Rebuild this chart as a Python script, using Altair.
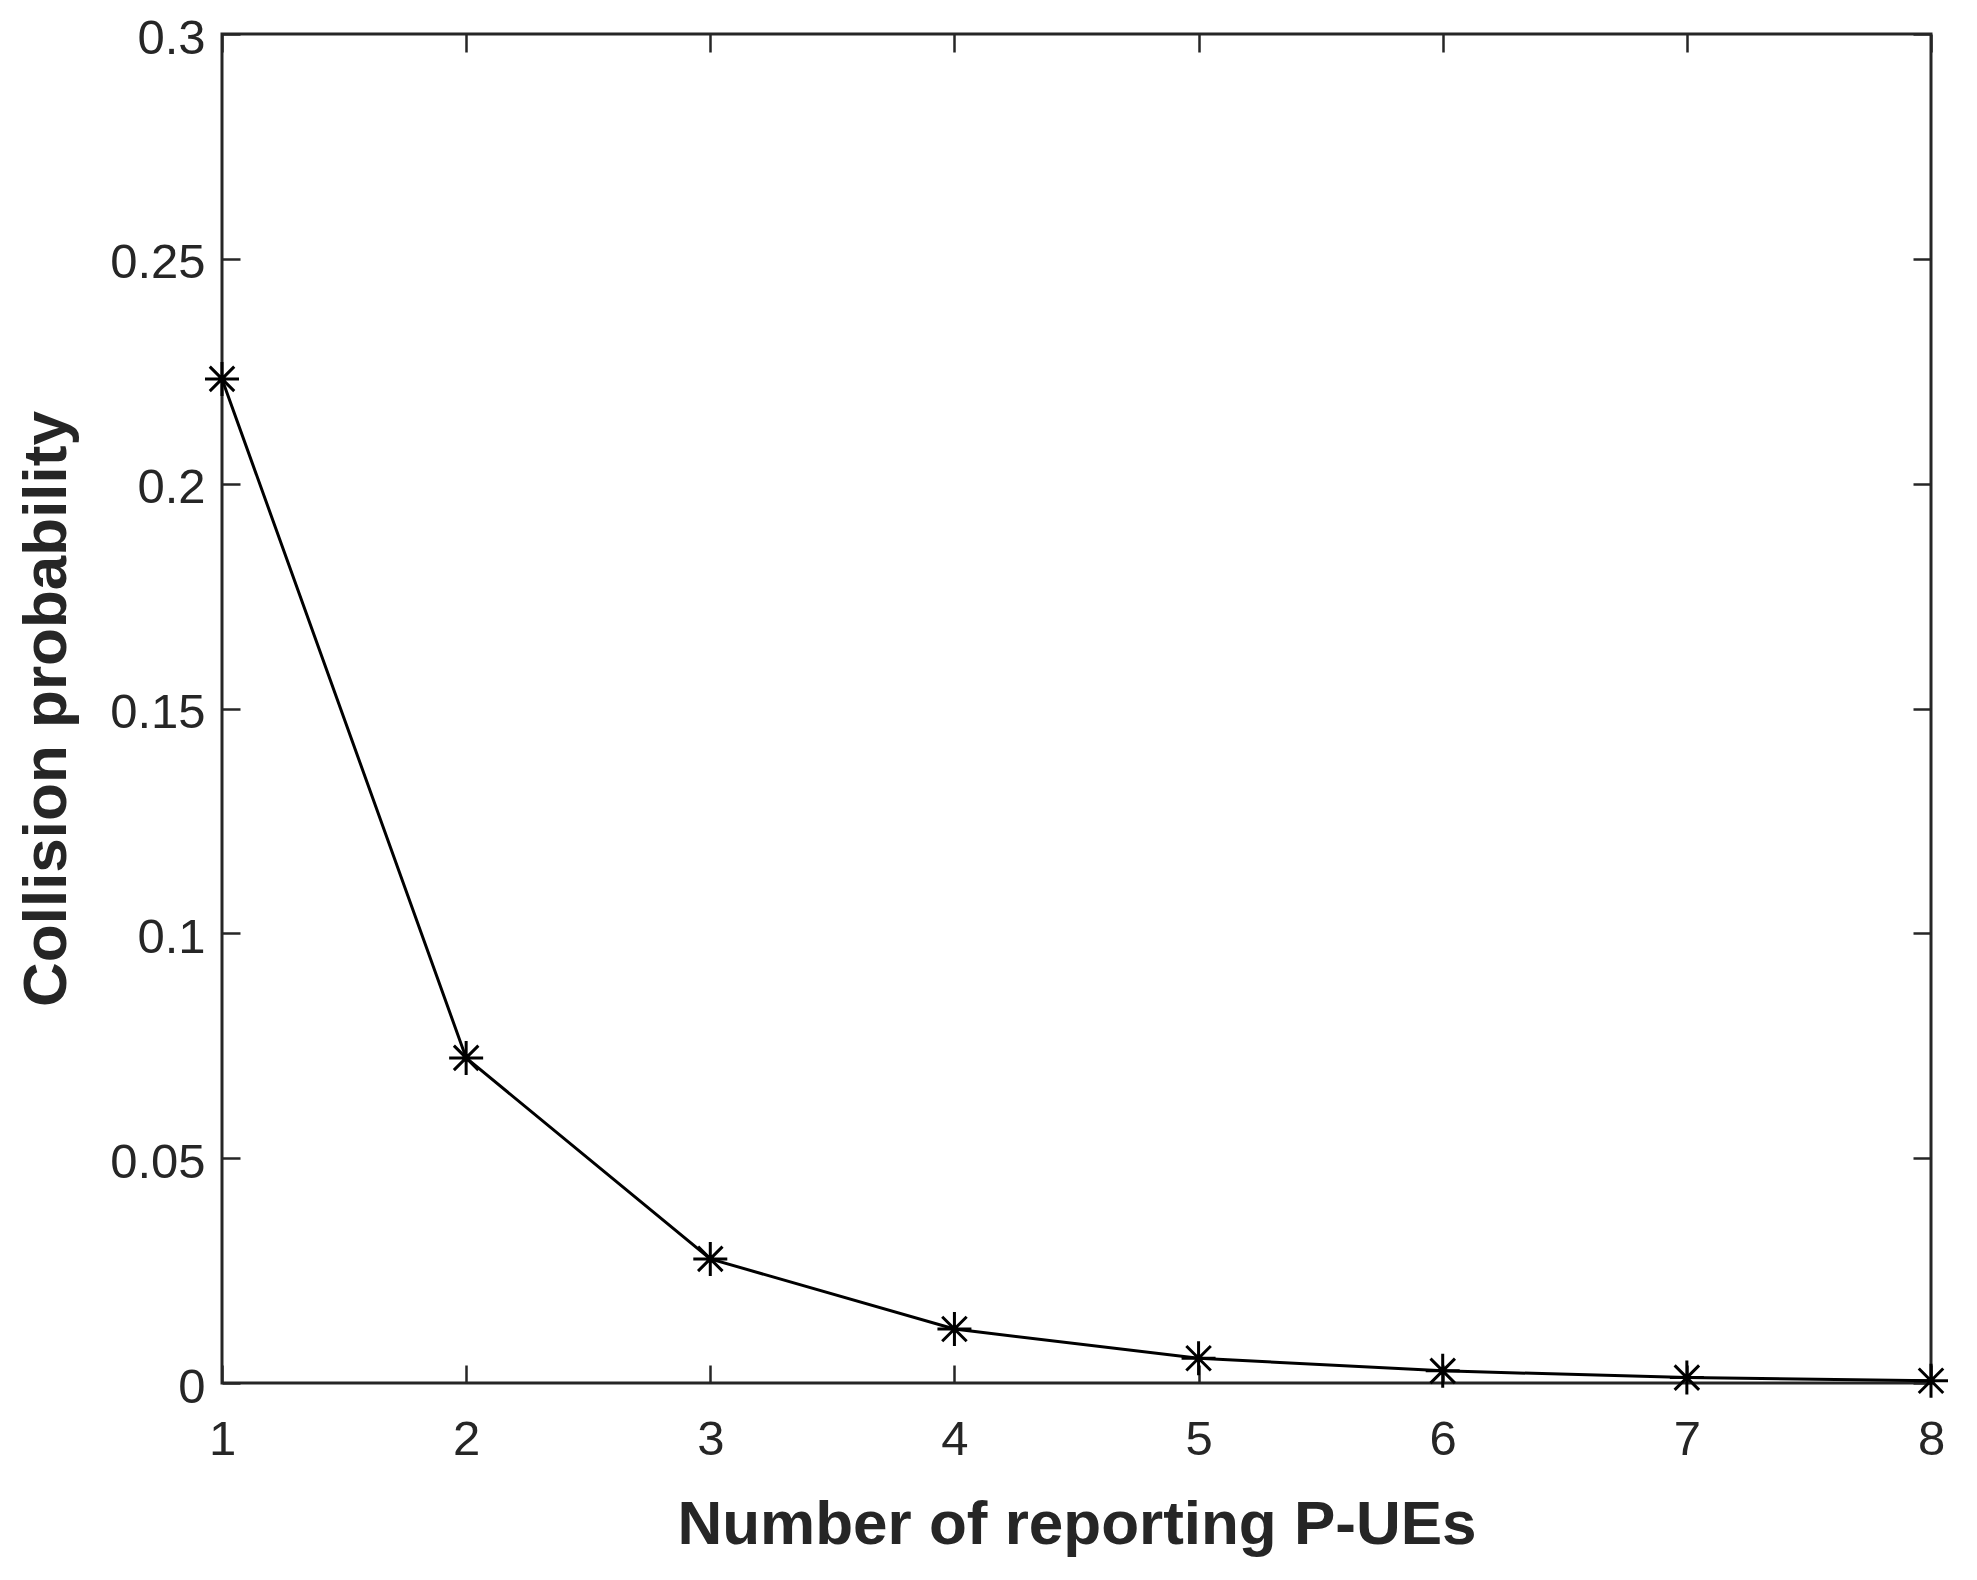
import altair as alt
import pandas as pd

# Data
reporting_ues = [1, 2, 3, 4, 5, 6, 7, 8]
collision_prob = [0.2233, 0.0723, 0.0276, 0.0120, 0.0055, 0.0027, 0.0012, 0.0005]

x_ticks = [1, 2, 3, 4, 5, 6, 7, 8]
y_ticks = [0, 0.05, 0.1, 0.15, 0.2, 0.25, 0.3]

df = pd.DataFrame({"n": reporting_ues, "p": collision_prob})

AX = "#262626"
FONT = "Liberation Sans"
TICK = 18

x_scale = alt.Scale(domain=[1, 8], nice=False, zero=False)
y_scale = alt.Scale(domain=[0, 0.3], nice=False, zero=False)

x_axis = alt.Axis(
    orient="bottom", values=x_ticks, format="d", offset=-TICK, tickSize=TICK,
    domain=False, grid=False, labelPadding=32, labelFlush=False,
    labelOverlap=False, titlePadding=30, title="Number of reporting P-UEs",
)
y_axis = alt.Axis(
    orient="left", values=y_ticks, format="~g", offset=-TICK, tickSize=TICK,
    domain=False, grid=False, labelPadding=17, labelOffset=4,
    labelOverlap=False, labelFlush=False, titlePadding=31,
    title="Collision probability",
)
x_axis_top = alt.Axis(
    orient="top", values=x_ticks, offset=-TICK, tickSize=TICK, labels=False,
    domain=False, grid=False, title=None,
)
y_axis_right = alt.Axis(
    orient="right", values=y_ticks, offset=-TICK, tickSize=TICK, labels=False,
    domain=False, grid=False, title=None,
)

base = alt.Chart(df)

line = base.mark_line(color="black", strokeWidth=3).encode(
    x=alt.X("n:Q", scale=x_scale, axis=x_axis),
    y=alt.Y("p:Q", scale=y_scale, axis=y_axis),
)

asterisk = ("M-1,0L1,0M0,-1L0,1M-0.72,-0.72L0.72,0.72M-0.72,0.72L0.72,-0.72")
points = base.mark_point(
    shape=asterisk, size=1156, filled=False, stroke="black", strokeWidth=3,
    opacity=1,
).encode(
    x=alt.X("n:Q", scale=x_scale, axis=None),
    y=alt.Y("p:Q", scale=y_scale, axis=None),
)

frame = base.mark_point(opacity=0).encode(
    x=alt.X("n:Q", scale=x_scale, axis=x_axis_top),
    y=alt.Y("p:Q", scale=y_scale, axis=y_axis_right),
)

chart = alt.layer(line, points, frame).resolve_axis(
    x="independent", y="independent"
).properties(
    width=1709, height=1349,
    autosize=alt.AutoSizeParams(type="none"),
    padding={"left": 214, "top": 26, "right": 30, "bottom": 180},
    background="white",
).configure_view(
    stroke=AX, strokeWidth=3,
).configure_axis(
    labelFont=FONT, labelFontSize=49, labelColor=AX,
    titleFont=FONT, titleFontSize=62, titleFontWeight="bold", titleColor=AX,
    tickColor=AX, tickWidth=2.5,
)

chart.save("out.html", embed_options={"renderer": "svg", "actions": False})
